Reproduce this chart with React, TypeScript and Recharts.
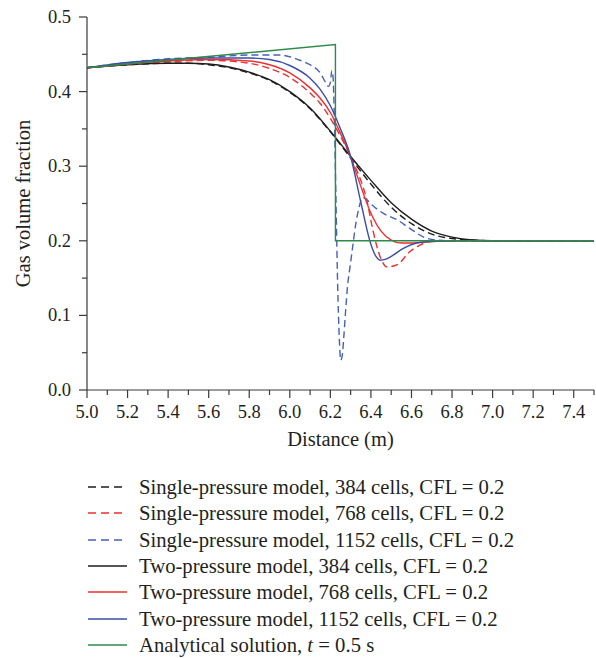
import React from "react";
import { LineChart, Line, XAxis, YAxis } from "recharts";

// Gas volume fraction vs distance, single- vs two-pressure model

const FONT = "'Liberation Serif', 'DejaVu Serif', serif";
const TEXT = "#231f20";
const AXIS = "#3a3a3a";
const BLACK = "#1e1e1e";
const RED = "#ec2f2f";
const BLUE = "#3a4ea8";
const BLUE_DASH = "#4560b8";
const GREEN = "#2e8a4a";

const xTicks = [5.0, 5.1, 5.2, 5.3, 5.4, 5.5, 5.6, 5.7, 5.8, 5.9, 6.0, 6.1, 6.2, 6.3, 6.4, 6.5, 6.6, 6.7, 6.8, 6.9, 7.0, 7.1, 7.2, 7.3, 7.4, 7.5];
const xLabels = [5.0, 5.2, 5.4, 5.6, 5.8, 6.0, 6.2, 6.4, 6.6, 6.8, 7.0, 7.2, 7.4];
const yTicks = [0, 0.05, 0.1, 0.15, 0.2, 0.25, 0.3, 0.35, 0.4, 0.45, 0.5];
const yLabels = [0, 0.1, 0.2, 0.3, 0.4, 0.5];

// [distance (m), gas volume fraction]
const single384: [number, number][] = [
  [5.0, 0.432], [5.2, 0.436], [5.4, 0.438], [5.5, 0.438], [5.6, 0.436], [5.7, 0.432],
  [5.8, 0.425], [5.9, 0.415], [6.0, 0.399], [6.1, 0.377], [6.2, 0.346], [6.3, 0.311],
  [6.4, 0.276], [6.5, 0.245], [6.6, 0.223], [6.7, 0.209], [6.8, 0.203], [6.9, 0.201],
  [7.0, 0.2], [7.5, 0.2],
];
const single768: [number, number][] = [
  [5.0, 0.432], [5.2, 0.437], [5.4, 0.44], [5.6, 0.442], [5.8, 0.438], [5.9, 0.431],
  [6.0, 0.419], [6.1, 0.398], [6.15, 0.384], [6.2, 0.364], [6.25, 0.34], [6.3, 0.313],
  [6.34, 0.288], [6.36, 0.273], [6.38, 0.254], [6.41, 0.214], [6.445, 0.179], [6.48, 0.165],
  [6.53, 0.168], [6.59, 0.185], [6.64, 0.194], [6.69, 0.199], [6.8, 0.2], [7.5, 0.2],
];
const single1152: [number, number][] = [
  [5.0, 0.432], [5.2, 0.439], [5.4, 0.444], [5.6, 0.446], [5.8, 0.449], [5.95, 0.449],
  [6.05, 0.442], [6.1, 0.436], [6.15, 0.425], [6.175, 0.413], [6.19, 0.407], [6.2, 0.412],
  [6.207, 0.428], [6.213, 0.42], [6.22, 0.36], [6.228, 0.25], [6.236, 0.14], [6.244, 0.07],
  [6.251, 0.04], [6.258, 0.045], [6.266, 0.07], [6.275, 0.105], [6.285, 0.14], [6.297, 0.165],
  [6.31, 0.192], [6.325, 0.222], [6.34, 0.243], [6.36, 0.258], [6.38, 0.255], [6.41, 0.247],
  [6.46, 0.237], [6.53, 0.228], [6.59, 0.217], [6.66, 0.205], [6.72, 0.201], [6.8, 0.2],
  [7.5, 0.2],
];
const two384: [number, number][] = [
  [5.0, 0.432], [5.2, 0.436], [5.4, 0.438], [5.5, 0.438], [5.6, 0.437], [5.7, 0.433],
  [5.8, 0.426], [5.9, 0.416], [6.0, 0.4], [6.1, 0.378], [6.2, 0.347], [6.3, 0.313],
  [6.4, 0.281], [6.5, 0.251], [6.6, 0.229], [6.7, 0.213], [6.8, 0.205], [6.9, 0.201],
  [7.0, 0.2], [7.5, 0.2],
];
const two768: [number, number][] = [
  [5.0, 0.432], [5.2, 0.437], [5.4, 0.441], [5.6, 0.443], [5.8, 0.441], [5.9, 0.436],
  [6.0, 0.425], [6.1, 0.405], [6.15, 0.391], [6.2, 0.372], [6.25, 0.344], [6.3, 0.312],
  [6.34, 0.281], [6.4, 0.237], [6.45, 0.213], [6.5, 0.201], [6.55, 0.197], [6.6, 0.197],
  [6.7, 0.199], [6.8, 0.2], [7.5, 0.2],
];
const two1152: [number, number][] = [
  [5.0, 0.432], [5.2, 0.439], [5.4, 0.443], [5.6, 0.445], [5.8, 0.445], [5.9, 0.443],
  [6.0, 0.435], [6.1, 0.418], [6.15, 0.403], [6.2, 0.381], [6.25, 0.35], [6.3, 0.313],
  [6.35, 0.252], [6.4, 0.195], [6.425, 0.179], [6.445, 0.174], [6.47, 0.175], [6.5, 0.179],
  [6.56, 0.19], [6.625, 0.197], [6.69, 0.199], [6.8, 0.2], [7.5, 0.2],
];
const analytical: [number, number][] = [
  [5.0, 0.432], [6.225, 0.463], [6.225, 0.2], [7.5, 0.2],
];

const toPts = (arr: [number, number][]) => arr.map(([x, y]) => ({ x, y }));

const series = [
  { name: "Single-pressure model, 384 cells, CFL = 0.2", data: single384, color: BLACK, dashed: true },
  { name: "Single-pressure model, 768 cells, CFL = 0.2", data: single768, color: RED, dashed: true },
  { name: "Single-pressure model, 1152 cells, CFL = 0.2", data: single1152, color: BLUE_DASH, dashed: true },
  { name: "Two-pressure model, 384 cells, CFL = 0.2", data: two384, color: BLACK, dashed: false },
  { name: "Two-pressure model, 768 cells, CFL = 0.2", data: two768, color: RED, dashed: false },
  { name: "Two-pressure model, 1152 cells, CFL = 0.2", data: two1152, color: BLUE, dashed: false },
  { name: "Analytical solution, t = 0.5 s", data: analytical, color: GREEN, dashed: false },
];

const isIn = (list: number[], v: number) => list.some((l) => Math.abs(l - v) < 1e-6);

function XTick(props: any) {
  const { x, y, payload } = props;
  const major = isIn(xLabels, payload.value);
  return (
    <g>
      <line x1={x} x2={x} y1={y} y2={y + (major ? 8 : 5)} stroke={AXIS} strokeWidth={1.2} />
      {major && (
        <text x={x} y={y + 28} textAnchor="middle" fontSize={18.5} fill={TEXT} fontFamily={FONT}>
          {payload.value.toFixed(1)}
        </text>
      )}
    </g>
  );
}

function YTick(props: any) {
  const { x, y, payload } = props;
  const major = isIn(yLabels, payload.value);
  return (
    <g>
      <line x1={x - (major ? 8 : 5)} x2={x} y1={y} y2={y} stroke={AXIS} strokeWidth={1.2} />
      {major && (
        <text x={x - 16} y={y + 6} textAnchor="end" fontSize={18.5} fill={TEXT} fontFamily={FONT}>
          {payload.value.toFixed(1)}
        </text>
      )}
    </g>
  );
}

function legendLabel(name: string) {
  // italic time symbol in the analytical entry
  const m = name.match(/^(.*, )t( = .*)$/);
  if (!m) return name;
  return (
    <>
      {m[1]}
      <i>t</i>
      {m[2]}
    </>
  );
}

export default function App() {
  return (
    <div style={{ position: "relative", width: 596, height: 658, background: "#fff", fontFamily: FONT }}>
      <style>{"body{margin:0}"}</style>
      <LineChart width={596} height={458} margin={{ top: 17, right: 2, bottom: 0, left: 0 }}>
        <XAxis
          dataKey="x"
          type="number"
          domain={[5, 7.5]}
          ticks={xTicks}
          interval={0}
          allowDataOverflow
          height={68}
          tickLine={false}
          tickSize={0}
          tickMargin={0}
          axisLine={{ stroke: AXIS, strokeWidth: 1.2 }}
          tick={<XTick />}
          label={{
            value: "Distance (m)",
            position: "insideBottom",
            offset: 12,
            fontSize: 20.5,
            fill: TEXT,
            fontFamily: FONT,
          }}
        />
        <YAxis
          dataKey="y"
          type="number"
          domain={[0, 0.5]}
          ticks={yTicks}
          interval={0}
          allowDataOverflow
          width={87}
          tickLine={false}
          tickSize={0}
          tickMargin={0}
          axisLine={{ stroke: AXIS, strokeWidth: 1.2 }}
          tick={<YTick />}
          label={{
            content: (p: any) => {
              const vb = p.viewBox;
              const cx = vb.x + 30;
              const cy = vb.y + vb.height / 2;
              return (
                <text
                  x={cx}
                  y={cy}
                  transform={`rotate(-90 ${cx} ${cy})`}
                  textAnchor="middle"
                  fontSize={20.5}
                  fill={TEXT}
                  fontFamily={FONT}
                >
                  Gas volume fraction
                </text>
              );
            },
          }}
        />
        {series.map((s) => (
          <Line
            key={s.name}
            data={toPts(s.data)}
            dataKey="y"
            name={s.name}
            type={s.data === analytical ? "linear" : "monotone"}
            stroke={s.color}
            strokeWidth={1.4}
            strokeDasharray={s.dashed ? "7 4" : undefined}
            dot={false}
            activeDot={false}
            isAnimationActive={false}
          />
        ))}
      </LineChart>
      {series.map((s, i) => (
        <div
          key={s.name}
          style={{
            position: "absolute",
            left: 0,
            top: 474 + i * 26.3,
            height: 26,
            width: 596,
            display: "flex",
            alignItems: "center",
          }}
        >
          <svg width={139} height={26} style={{ flex: "none" }}>
            <line
              x1={88}
              x2={127}
              y1={13}
              y2={13}
              stroke={s.color}
              strokeWidth={1.4}
              strokeDasharray={s.dashed ? "8 5" : undefined}
            />
          </svg>
          <span style={{ fontSize: 20.7, color: TEXT, whiteSpace: "nowrap", lineHeight: "26px" }}>
            {legendLabel(s.name)}
          </span>
        </div>
      ))}
    </div>
  );
}
